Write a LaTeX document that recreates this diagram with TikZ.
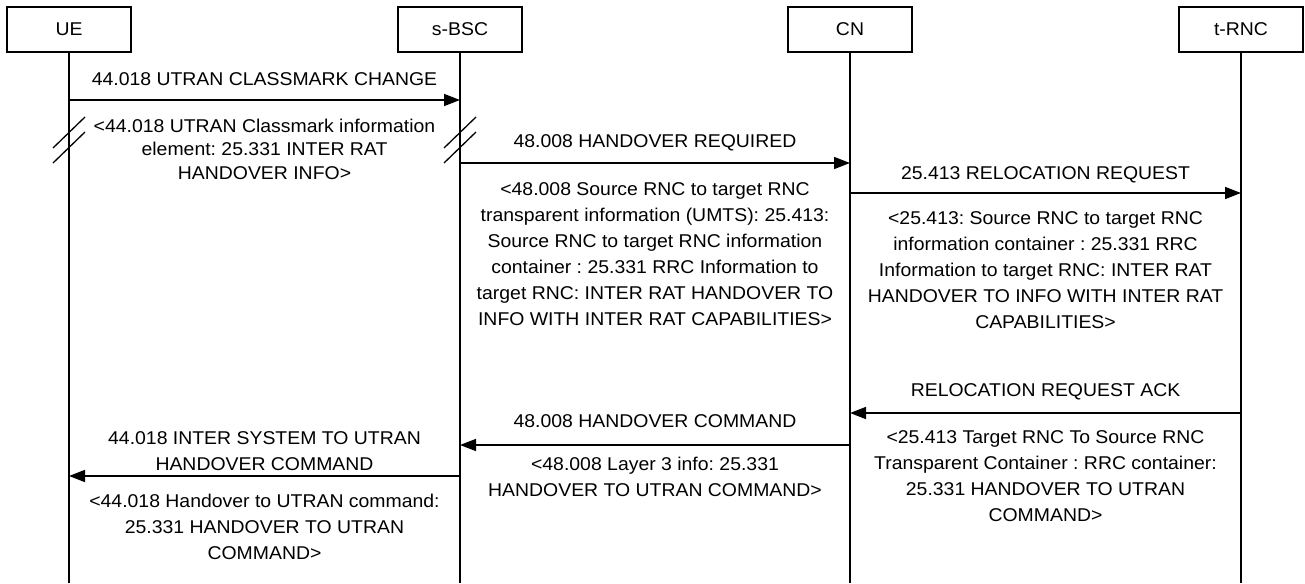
\documentclass[tikz,border=0pt]{standalone}
\usepackage{fontspec}
\setmainfont{Liberation Sans}[FakeStretch=1.05]
\frenchspacing
\usetikzlibrary{arrows.meta,calc}
\newcommand{\sigfont}{\fontsize{18.5}{26}\selectfont}
\newcommand{\tightfont}{\fontsize{18.5}{23.5}\selectfont}
\tikzset{
  entity/.style={draw, line width=1.3pt, minimum width=124pt, minimum height=45pt, inner sep=0pt},
  life/.style={line width=1.3pt},
  msg/.style={line width=1.6pt, -{Triangle[length=16pt,width=12pt]}},
  note/.style={anchor=north, align=center, inner sep=0pt, execute at begin node=\strut},
}
\begin{document}
\begin{tikzpicture}[x=1pt, y=-1pt, every node/.style={font=\sigfont}]
  \useasboundingbox (0,0) rectangle (1305,583);
  \node[entity] (UE)   at (69,29.5)   {UE};
  \node[entity] (sBSC) at (460,29.5)  {s-BSC};
  \node[entity] (CN)   at (850,29.5)  {CN};
  \node[entity] (tRNC) at (1241,29.5) {t-RNC};
  \coordinate (bot) at (0,583);
  \coordinate (brk) at (0,117);
  \coordinate (r1) at (0,100);
  \coordinate (r2) at (0,163);
  \coordinate (r3) at (0,193);
  \coordinate (r4) at (0,413);
  \coordinate (r5) at (0,445);
  \coordinate (r6) at (0,476);
  \foreach \n in {UE,sBSC,CN,tRNC}
    \draw[life] (\n.south) -- (\n.south |- bot);
  \foreach \n in {UE,sBSC}
    \foreach \d in {0,15}
      \draw[life] ($(\n |- brk)+(16,\d)$) -- ++(-32,31);

  \node[note] (uccl) at (264.5,67) {44.018 UTRAN CLASSMARK CHANGE};
  \node[note, font=\tightfont] (ucci) at (264.5,118.5) {<44.018 UTRAN Classmark information\\element: 25.331 INTER RAT\\HANDOVER INFO>};
  \node[note] (hrql) at (655,129.3) {48.008 HANDOVER REQUIRED};
  \node[note] (hrqi) at (655,182) {<48.008 Source RNC to target RNC\\transparent information (UMTS): 25.413:\\Source RNC to target RNC information\\container : 25.331 RRC Information to\\target RNC: INTER RAT HANDOVER TO\\INFO WITH INTER RAT CAPABILITIES>};
  \node[note] (rrql) at (1045.5,161.3) {25.413 RELOCATION REQUEST};
  \node[note] (rrqi) at (1045.5,211.5) {<25.413: Source RNC to target RNC\\information container : 25.331 RRC\\Information to target RNC: INTER RAT\\HANDOVER TO INFO WITH INTER RAT\\CAPABILITIES>};
  \node[note] (rackl) at (1045.5,378.5) {RELOCATION REQUEST ACK};
  \node[note] (racki) at (1045.5,430.5) {<25.413 Target RNC To Source RNC\\Transparent Container : RRC container:\\25.331 HANDOVER TO UTRAN\\COMMAND>};
  \node[note] (hcmdl) at (655,409.5) {48.008 HANDOVER COMMAND};
  \node[note] (hcmdi) at (655,456.5) {<48.008 Layer 3 info: 25.331\\HANDOVER TO UTRAN COMMAND>};
  \node[note] (ishl) at (264.5,431) {44.018 INTER SYSTEM TO UTRAN\\HANDOVER COMMAND};
  \node[note] (ishi) at (264.5,493.5) {<44.018 Handover to UTRAN command:\\25.331 HANDOVER TO UTRAN\\COMMAND>};

  \draw[msg] (UE |- r1) -- (sBSC |- r1);
  \draw[msg] (sBSC |- r2) -- (CN |- r2);
  \draw[msg] (CN |- r3) -- (tRNC |- r3);
  \draw[msg] (tRNC |- r4) -- (CN |- r4);
  \draw[msg] (CN |- r5) -- (sBSC |- r5);
  \draw[msg] (sBSC |- r6) -- (UE |- r6);
\end{tikzpicture}
\end{document}
